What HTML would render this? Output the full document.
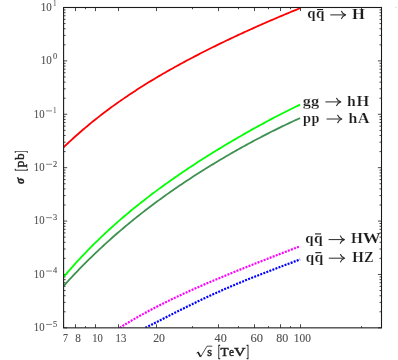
<!DOCTYPE html>
<html><head><meta charset="utf-8"><title>plot</title>
<style>
html,body{margin:0;padding:0;background:#fff;}
body{width:398px;height:360px;overflow:hidden;}
svg{display:block;will-change:transform;}
text{font-family:"Liberation Serif",serif;}
.tk{fill:#505050;stroke:#505050;stroke-width:0.12px;}
.lb{fill:#1c1c1c;font-weight:bold;stroke:#fff;stroke-width:0.2px;}
.ax{fill:#222;stroke:#222;stroke-width:0.45px;}
</style></head><body>
<svg width="398" height="360" viewBox="0 0 398 360">
<rect width="398" height="360" fill="#fff"/>
<defs><clipPath id="pc"><rect x="63.6" y="7.5" width="317.90" height="320.35"/></clipPath></defs>
<g stroke="#1a1a1a" stroke-width="0.8" fill="none">
<path d="M63.50,327.85 v-3.6 M63.50,7.5 v3.6"/>
<path d="M75.50,327.85 v-3.6 M75.50,7.5 v3.6"/>
<path d="M95.50,327.85 v-3.6 M95.50,7.5 v3.6"/>
<path d="M118.50,327.85 v-3.6 M118.50,7.5 v3.6"/>
<path d="M156.50,327.85 v-3.6 M156.50,7.5 v3.6"/>
<path d="M218.50,327.85 v-3.6 M218.50,7.5 v3.6"/>
<path d="M254.50,327.85 v-3.6 M254.50,7.5 v3.6"/>
<path d="M280.50,327.85 v-3.6 M280.50,7.5 v3.6"/>
<path d="M300.50,327.85 v-3.6 M300.50,7.5 v3.6"/>
<path d="M85.50,327.85 v-1.7 M85.50,7.5 v1.7"/>
<path d="M192.50,327.85 v-1.7 M192.50,7.5 v1.7"/>
<path d="M238.50,327.85 v-1.7 M238.50,7.5 v1.7"/>
<path d="M268.50,327.85 v-1.7 M268.50,7.5 v1.7"/>
<path d="M290.50,327.85 v-1.7 M290.50,7.5 v1.7"/>
<path d="M361.50,327.85 v-1.7 M361.50,7.5 v1.7"/>
<path d="M63.6,327.85 h3.6 M381.5,327.85 h-3.6"/>
<path d="M63.6,311.78 h2.0 M381.5,311.78 h-2.0"/>
<path d="M63.6,302.38 h2.0 M381.5,302.38 h-2.0"/>
<path d="M63.6,295.71 h2.0 M381.5,295.71 h-2.0"/>
<path d="M63.6,290.53 h2.0 M381.5,290.53 h-2.0"/>
<path d="M63.6,286.30 h2.0 M381.5,286.30 h-2.0"/>
<path d="M63.6,282.73 h2.0 M381.5,282.73 h-2.0"/>
<path d="M63.6,279.63 h2.0 M381.5,279.63 h-2.0"/>
<path d="M63.6,276.90 h2.0 M381.5,276.90 h-2.0"/>
<path d="M63.6,274.46 h3.6 M381.5,274.46 h-3.6"/>
<path d="M63.6,258.39 h2.0 M381.5,258.39 h-2.0"/>
<path d="M63.6,248.98 h2.0 M381.5,248.98 h-2.0"/>
<path d="M63.6,242.31 h2.0 M381.5,242.31 h-2.0"/>
<path d="M63.6,237.14 h2.0 M381.5,237.14 h-2.0"/>
<path d="M63.6,232.91 h2.0 M381.5,232.91 h-2.0"/>
<path d="M63.6,229.34 h2.0 M381.5,229.34 h-2.0"/>
<path d="M63.6,226.24 h2.0 M381.5,226.24 h-2.0"/>
<path d="M63.6,223.51 h2.0 M381.5,223.51 h-2.0"/>
<path d="M63.6,221.07 h3.6 M381.5,221.07 h-3.6"/>
<path d="M63.6,204.99 h2.0 M381.5,204.99 h-2.0"/>
<path d="M63.6,195.59 h2.0 M381.5,195.59 h-2.0"/>
<path d="M63.6,188.92 h2.0 M381.5,188.92 h-2.0"/>
<path d="M63.6,183.75 h2.0 M381.5,183.75 h-2.0"/>
<path d="M63.6,179.52 h2.0 M381.5,179.52 h-2.0"/>
<path d="M63.6,175.95 h2.0 M381.5,175.95 h-2.0"/>
<path d="M63.6,172.85 h2.0 M381.5,172.85 h-2.0"/>
<path d="M63.6,170.12 h2.0 M381.5,170.12 h-2.0"/>
<path d="M63.6,167.68 h3.6 M381.5,167.68 h-3.6"/>
<path d="M63.6,151.60 h2.0 M381.5,151.60 h-2.0"/>
<path d="M63.6,142.20 h2.0 M381.5,142.20 h-2.0"/>
<path d="M63.6,135.53 h2.0 M381.5,135.53 h-2.0"/>
<path d="M63.6,130.36 h2.0 M381.5,130.36 h-2.0"/>
<path d="M63.6,126.13 h2.0 M381.5,126.13 h-2.0"/>
<path d="M63.6,122.55 h2.0 M381.5,122.55 h-2.0"/>
<path d="M63.6,119.46 h2.0 M381.5,119.46 h-2.0"/>
<path d="M63.6,116.73 h2.0 M381.5,116.73 h-2.0"/>
<path d="M63.6,114.28 h3.6 M381.5,114.28 h-3.6"/>
<path d="M63.6,98.21 h2.0 M381.5,98.21 h-2.0"/>
<path d="M63.6,88.81 h2.0 M381.5,88.81 h-2.0"/>
<path d="M63.6,82.14 h2.0 M381.5,82.14 h-2.0"/>
<path d="M63.6,76.96 h2.0 M381.5,76.96 h-2.0"/>
<path d="M63.6,72.74 h2.0 M381.5,72.74 h-2.0"/>
<path d="M63.6,69.16 h2.0 M381.5,69.16 h-2.0"/>
<path d="M63.6,66.07 h2.0 M381.5,66.07 h-2.0"/>
<path d="M63.6,63.33 h2.0 M381.5,63.33 h-2.0"/>
<path d="M63.6,60.89 h3.6 M381.5,60.89 h-3.6"/>
<path d="M63.6,44.82 h2.0 M381.5,44.82 h-2.0"/>
<path d="M63.6,35.42 h2.0 M381.5,35.42 h-2.0"/>
<path d="M63.6,28.75 h2.0 M381.5,28.75 h-2.0"/>
<path d="M63.6,23.57 h2.0 M381.5,23.57 h-2.0"/>
<path d="M63.6,19.34 h2.0 M381.5,19.34 h-2.0"/>
<path d="M63.6,15.77 h2.0 M381.5,15.77 h-2.0"/>
<path d="M63.6,12.67 h2.0 M381.5,12.67 h-2.0"/>
<path d="M63.6,9.94 h2.0 M381.5,9.94 h-2.0"/>
<path d="M63.6,7.50 h3.6 M381.5,7.50 h-3.6"/>
</g>
<g clip-path="url(#pc)">
<path d="M63.60,147.26 L65.59,145.36 L67.57,143.49 L69.56,141.64 L71.55,139.82 L73.54,138.01 L75.52,136.23 L77.51,134.46 L79.50,132.72 L81.49,131.00 L83.47,129.29 L85.46,127.61 L87.45,125.94 L89.44,124.30 L91.42,122.67 L93.41,121.06 L95.40,119.47 L97.39,117.89 L99.37,116.34 L101.36,114.80 L103.35,113.27 L105.34,111.76 L107.32,110.27 L109.31,108.79 L111.30,107.33 L113.28,105.89 L115.27,104.45 L117.26,103.04 L119.25,101.63 L121.23,100.24 L123.22,98.87 L125.21,97.50 L127.20,96.15 L129.18,94.82 L131.17,93.49 L133.16,92.18 L135.15,90.88 L137.13,89.59 L139.12,88.32 L141.11,87.05 L143.10,85.80 L145.08,84.55 L147.07,83.32 L149.06,82.10 L151.05,80.89 L153.03,79.68 L155.02,78.49 L157.01,77.31 L158.99,76.13 L160.98,74.97 L162.97,73.81 L164.96,72.67 L166.94,71.53 L168.93,70.40 L170.92,69.28 L172.91,68.16 L174.89,67.06 L176.88,65.96 L178.87,64.87 L180.86,63.78 L182.84,62.71 L184.83,61.64 L186.82,60.58 L188.81,59.52 L190.79,58.47 L192.78,57.43 L194.77,56.39 L196.76,55.36 L198.74,54.34 L200.73,53.32 L202.72,52.31 L204.71,51.30 L206.69,50.30 L208.68,49.30 L210.67,48.31 L212.65,47.32 L214.64,46.34 L216.63,45.37 L218.62,44.40 L220.60,43.43 L222.59,42.47 L224.58,41.51 L226.57,40.56 L228.55,39.61 L230.54,38.67 L232.53,37.73 L234.52,36.80 L236.50,35.87 L238.49,34.94 L240.48,34.02 L242.47,33.10 L244.45,32.19 L246.44,31.28 L248.43,30.38 L250.42,29.47 L252.40,28.58 L254.39,27.68 L256.38,26.79 L258.36,25.91 L260.35,25.03 L262.34,24.15 L264.33,23.27 L266.31,22.40 L268.30,21.53 L270.29,20.67 L272.28,19.81 L274.26,18.96 L276.25,18.10 L278.24,17.26 L280.23,16.41 L282.21,15.57 L284.20,14.74 L286.19,13.90 L288.18,13.08 L290.16,12.25 L292.15,11.43 L294.14,10.62 L296.13,9.81 L298.11,9.00 L300.10,8.19" fill="none" stroke="#ff0000" stroke-width="1.8" stroke-linejoin="round"/>
<path d="M63.60,276.96 L65.59,274.63 L67.57,272.33 L69.56,270.05 L71.55,267.81 L73.54,265.58 L75.52,263.39 L77.51,261.22 L79.50,259.07 L81.49,256.95 L83.47,254.85 L85.46,252.77 L87.45,250.72 L89.44,248.69 L91.42,246.68 L93.41,244.69 L95.40,242.73 L97.39,240.78 L99.37,238.86 L101.36,236.95 L103.35,235.07 L105.34,233.20 L107.32,231.36 L109.31,229.53 L111.30,227.72 L113.28,225.93 L115.27,224.15 L117.26,222.40 L119.25,220.66 L121.23,218.93 L123.22,217.22 L125.21,215.53 L127.20,213.86 L129.18,212.19 L131.17,210.55 L133.16,208.92 L135.15,207.30 L137.13,205.70 L139.12,204.11 L141.11,202.53 L143.10,200.97 L145.08,199.42 L147.07,197.88 L149.06,196.35 L151.05,194.84 L153.03,193.34 L155.02,191.85 L157.01,190.37 L158.99,188.90 L160.98,187.45 L162.97,186.00 L164.96,184.57 L166.94,183.14 L168.93,181.73 L170.92,180.32 L172.91,178.93 L174.89,177.54 L176.88,176.17 L178.87,174.80 L180.86,173.44 L182.84,172.09 L184.83,170.75 L186.82,169.42 L188.81,168.09 L190.79,166.77 L192.78,165.47 L194.77,164.17 L196.76,162.87 L198.74,161.59 L200.73,160.31 L202.72,159.04 L204.71,157.77 L206.69,156.52 L208.68,155.27 L210.67,154.03 L212.65,152.79 L214.64,151.56 L216.63,150.34 L218.62,149.12 L220.60,147.91 L222.59,146.71 L224.58,145.51 L226.57,144.32 L228.55,143.14 L230.54,141.96 L232.53,140.79 L234.52,139.62 L236.50,138.46 L238.49,137.31 L240.48,136.16 L242.47,135.02 L244.45,133.88 L246.44,132.75 L248.43,131.63 L250.42,130.51 L252.40,129.40 L254.39,128.29 L256.38,127.19 L258.36,126.10 L260.35,125.01 L262.34,123.93 L264.33,122.85 L266.31,121.78 L268.30,120.72 L270.29,119.67 L272.28,118.61 L274.26,117.57 L276.25,116.53 L278.24,115.50 L280.23,114.48 L282.21,113.46 L284.20,112.45 L286.19,111.45 L288.18,110.45 L290.16,109.46 L292.15,108.48 L294.14,107.51 L296.13,106.54 L298.11,105.58 L300.10,104.63" fill="none" stroke="#00ff00" stroke-width="1.8" stroke-linejoin="round"/>
<path d="M63.60,286.04 L65.59,283.83 L67.57,281.65 L69.56,279.48 L71.55,277.34 L73.54,275.22 L75.52,273.12 L77.51,271.04 L79.50,268.98 L81.49,266.94 L83.47,264.92 L85.46,262.92 L87.45,260.93 L89.44,258.97 L91.42,257.02 L93.41,255.10 L95.40,253.19 L97.39,251.30 L99.37,249.42 L101.36,247.57 L103.35,245.73 L105.34,243.90 L107.32,242.10 L109.31,240.31 L111.30,238.53 L113.28,236.77 L115.27,235.03 L117.26,233.30 L119.25,231.59 L121.23,229.89 L123.22,228.20 L125.21,226.53 L127.20,224.88 L129.18,223.23 L131.17,221.61 L133.16,219.99 L135.15,218.39 L137.13,216.80 L139.12,215.22 L141.11,213.66 L143.10,212.11 L145.08,210.57 L147.07,209.04 L149.06,207.52 L151.05,206.02 L153.03,204.53 L155.02,203.05 L157.01,201.58 L158.99,200.12 L160.98,198.67 L162.97,197.23 L164.96,195.81 L166.94,194.39 L168.93,192.98 L170.92,191.59 L172.91,190.20 L174.89,188.83 L176.88,187.46 L178.87,186.10 L180.86,184.75 L182.84,183.42 L184.83,182.09 L186.82,180.76 L188.81,179.45 L190.79,178.15 L192.78,176.86 L194.77,175.57 L196.76,174.29 L198.74,173.02 L200.73,171.76 L202.72,170.51 L204.71,169.27 L206.69,168.03 L208.68,166.80 L210.67,165.58 L212.65,164.37 L214.64,163.16 L216.63,161.96 L218.62,160.77 L220.60,159.59 L222.59,158.41 L224.58,157.25 L226.57,156.09 L228.55,154.93 L230.54,153.79 L232.53,152.65 L234.52,151.51 L236.50,150.39 L238.49,149.27 L240.48,148.16 L242.47,147.06 L244.45,145.96 L246.44,144.87 L248.43,143.79 L250.42,142.71 L252.40,141.64 L254.39,140.58 L256.38,139.52 L258.36,138.47 L260.35,137.43 L262.34,136.39 L264.33,135.37 L266.31,134.34 L268.30,133.33 L270.29,132.32 L272.28,131.32 L274.26,130.33 L276.25,129.34 L278.24,128.36 L280.23,127.39 L282.21,126.42 L284.20,125.46 L286.19,124.51 L288.18,123.57 L290.16,122.63 L292.15,121.70 L294.14,120.78 L296.13,119.86 L298.11,118.96 L300.10,118.06" fill="none" stroke="#3e9150" stroke-width="1.8" stroke-linejoin="round"/>
<path d="M119.71,327.83 L121.23,326.87 L122.74,325.92 L124.26,324.98 L125.77,324.05 L127.29,323.13 L128.81,322.22 L130.32,321.31 L131.84,320.42 L133.35,319.53 L134.87,318.65 L136.38,317.78 L137.90,316.91 L139.42,316.05 L140.93,315.20 L142.45,314.36 L143.96,313.52 L145.48,312.69 L147.00,311.87 L148.51,311.06 L150.03,310.25 L151.54,309.44 L153.06,308.65 L154.58,307.86 L156.09,307.07 L157.61,306.29 L159.12,305.52 L160.64,304.75 L162.15,303.99 L163.67,303.23 L165.19,302.48 L166.70,301.73 L168.22,300.99 L169.73,300.25 L171.25,299.52 L172.77,298.79 L174.28,298.07 L175.80,297.35 L177.31,296.63 L178.83,295.92 L180.35,295.21 L181.86,294.51 L183.38,293.81 L184.89,293.12 L186.41,292.42 L187.92,291.74 L189.44,291.05 L190.96,290.37 L192.47,289.69 L193.99,289.02 L195.50,288.35 L197.02,287.68 L198.54,287.01 L200.05,286.35 L201.57,285.69 L203.08,285.03 L204.60,284.37 L206.12,283.72 L207.63,283.07 L209.15,282.42 L210.66,281.78 L212.18,281.14 L213.69,280.50 L215.21,279.86 L216.73,279.22 L218.24,278.59 L219.76,277.95 L221.27,277.32 L222.79,276.69 L224.31,276.07 L225.82,275.44 L227.34,274.82 L228.85,274.19 L230.37,273.57 L231.89,272.95 L233.40,272.34 L234.92,271.72 L236.43,271.11 L237.95,270.49 L239.46,269.88 L240.98,269.27 L242.50,268.66 L244.01,268.05 L245.53,267.44 L247.04,266.84 L248.56,266.23 L250.08,265.63 L251.59,265.03 L253.11,264.43 L254.62,263.83 L256.14,263.23 L257.66,262.63 L259.17,262.03 L260.69,261.43 L262.20,260.84 L263.72,260.24 L265.23,259.65 L266.75,259.06 L268.27,258.47 L269.78,257.88 L271.30,257.29 L272.81,256.70 L274.33,256.11 L275.85,255.52 L277.36,254.94 L278.88,254.35 L280.39,253.77 L281.91,253.18 L283.43,252.60 L284.94,252.02 L286.46,251.44 L287.97,250.86 L289.49,250.28 L291.00,249.71 L292.52,249.13 L294.04,248.56 L295.55,247.98 L297.07,247.41 L298.58,246.84 L300.10,246.27" fill="none" stroke="#ff00ff" stroke-width="2.2" stroke-dasharray="2.0 1.25" stroke-linejoin="round"/>
<path d="M145.38,327.84 L146.68,327.18 L147.98,326.51 L149.28,325.85 L150.58,325.19 L151.88,324.52 L153.18,323.86 L154.48,323.19 L155.78,322.52 L157.08,321.86 L158.38,321.19 L159.68,320.52 L160.98,319.86 L162.28,319.19 L163.58,318.52 L164.88,317.86 L166.18,317.19 L167.48,316.53 L168.78,315.87 L170.08,315.20 L171.38,314.54 L172.68,313.88 L173.98,313.22 L175.28,312.56 L176.59,311.91 L177.89,311.25 L179.19,310.60 L180.49,309.95 L181.79,309.30 L183.09,308.65 L184.39,308.00 L185.69,307.36 L186.99,306.71 L188.29,306.07 L189.59,305.43 L190.89,304.79 L192.19,304.16 L193.49,303.53 L194.79,302.90 L196.09,302.27 L197.39,301.64 L198.69,301.02 L199.99,300.40 L201.29,299.78 L202.59,299.16 L203.89,298.55 L205.19,297.94 L206.49,297.33 L207.79,296.73 L209.09,296.12 L210.39,295.52 L211.69,294.93 L212.99,294.33 L214.29,293.74 L215.59,293.15 L216.89,292.56 L218.19,291.98 L219.49,291.40 L220.79,290.82 L222.09,290.25 L223.39,289.67 L224.69,289.10 L225.99,288.54 L227.29,287.97 L228.59,287.41 L229.89,286.85 L231.19,286.30 L232.49,285.74 L233.79,285.19 L235.09,284.65 L236.39,284.10 L237.69,283.56 L238.99,283.02 L240.29,282.48 L241.59,281.94 L242.89,281.41 L244.19,280.88 L245.49,280.35 L246.79,279.83 L248.09,279.30 L249.39,278.78 L250.69,278.26 L251.99,277.75 L253.29,277.23 L254.59,276.72 L255.89,276.21 L257.19,275.70 L258.49,275.19 L259.80,274.69 L261.10,274.18 L262.40,273.68 L263.70,273.18 L265.00,272.68 L266.30,272.18 L267.60,271.69 L268.90,271.19 L270.20,270.70 L271.50,270.21 L272.80,269.71 L274.10,269.22 L275.40,268.73 L276.70,268.24 L278.00,267.75 L279.30,267.26 L280.60,266.77 L281.90,266.29 L283.20,265.80 L284.50,265.31 L285.80,264.82 L287.10,264.33 L288.40,263.84 L289.70,263.35 L291.00,262.86 L292.30,262.37 L293.60,261.88 L294.90,261.38 L296.20,260.89 L297.50,260.39 L298.80,259.90 L300.10,259.40" fill="none" stroke="#0000ff" stroke-width="2.2" stroke-dasharray="2.0 1.25" stroke-linejoin="round"/>
</g>
<rect x="63.6" y="7.5" width="317.90" height="320.35" fill="none" stroke="#1a1a1a" stroke-width="1.1"/>
<rect x="395.6" y="6.8" width="1" height="1" fill="#c4c4c4"/>
<g class="tk">
<text transform="translate(63.00,341.70) scale(0.833,1.000)" font-size="12">7</text>
<text transform="translate(75.20,341.70) scale(0.933,1.000)" font-size="12">8</text>
<text transform="translate(92.20,341.70) scale(0.883,1.000)" font-size="12">10</text>
<text transform="translate(115.60,341.70) scale(0.900,1.000)" font-size="12">13</text>
<text transform="translate(153.20,341.70) scale(0.983,1.000)" font-size="12">20</text>
<text transform="translate(214.60,341.70) scale(1.008,1.000)" font-size="12">40</text>
<text transform="translate(250.60,341.70) scale(1.042,1.000)" font-size="12">60</text>
<text transform="translate(276.20,341.70) scale(1.000,1.000)" font-size="12">80</text>
<text transform="translate(293.80,341.70) scale(0.950,1.000)" font-size="12">100</text>
<text transform="translate(33.80,331.15) scale(0.892,1.000)" font-size="12">10</text>
<path d="M46,324.45 H52" stroke="#505050" stroke-width="0.7" fill="none"/>
<text transform="translate(52.90,327.15) scale(1.050,1.000)" font-size="8.0">5</text>
<text transform="translate(33.80,277.76) scale(0.892,1.000)" font-size="12">10</text>
<path d="M46,271.06 H52" stroke="#505050" stroke-width="0.7" fill="none"/>
<text transform="translate(52.90,273.06) scale(1.050,1.000)" font-size="8.0">4</text>
<text transform="translate(33.80,224.37) scale(0.892,1.000)" font-size="12">10</text>
<path d="M46,217.67 H52" stroke="#505050" stroke-width="0.7" fill="none"/>
<text transform="translate(52.90,220.07) scale(1.050,1.000)" font-size="8.0">3</text>
<text transform="translate(33.80,170.98) scale(0.892,1.000)" font-size="12">10</text>
<path d="M46,164.28 H52" stroke="#505050" stroke-width="0.7" fill="none"/>
<text transform="translate(52.90,166.58) scale(1.050,1.000)" font-size="8.0">2</text>
<text transform="translate(33.80,117.58) scale(0.892,1.000)" font-size="12">10</text>
<path d="M46,110.88 H52" stroke="#505050" stroke-width="0.7" fill="none"/>
<text transform="translate(53.30,112.58) scale(0.775,1.000)" font-size="8.0">1</text>
<text transform="translate(40.80,64.19) scale(0.917,1.000)" font-size="12">10</text>
<text transform="translate(52.90,59.49) scale(1.050,1.000)" font-size="8.0">0</text>
<text transform="translate(40.80,10.80) scale(0.917,1.000)" font-size="12">10</text>
<text transform="translate(53.30,5.80) scale(0.775,1.000)" font-size="8.0">1</text>
</g>
<g class="lb">
<text transform="translate(307.30,18.27) scale(0.994,1.010)" font-size="15.0">q</text><text transform="translate(316.10,18.27) scale(1.018,1.010)" font-size="15.0">q</text><text transform="translate(352.10,18.60) scale(1.099,1.000)" font-size="15.0">H</text><path d="M330.3,14.90 H345.20" stroke="#2a2a2a" stroke-width="1.0" fill="none"/><path d="M341.50,11.20 Q342.60,14.00 345.60,14.90 Q342.60,15.80 341.50,18.60" stroke="#2a2a2a" stroke-width="1.1" fill="none" stroke-linecap="round" stroke-linejoin="round"/><rect x="317.00" y="9.00" width="6.1" height="1.1" fill="#1c1c1c" stroke="none"/>
<text transform="translate(302.80,105.60) scale(1.080,1.000)" font-size="15.0">g</text><text transform="translate(311.10,105.60) scale(1.093,1.000)" font-size="15.0">g</text><text transform="translate(347.10,105.60) scale(1.054,1.000)" font-size="15.0">h</text><text transform="translate(356.50,105.60) scale(1.090,1.000)" font-size="15.0">H</text><path d="M325.4,101.90 H340.30" stroke="#2a2a2a" stroke-width="1.0" fill="none"/><path d="M336.60,98.20 Q337.70,101.00 340.70,101.90 Q337.70,102.80 336.60,105.60" stroke="#2a2a2a" stroke-width="1.1" fill="none" stroke-linecap="round" stroke-linejoin="round"/>
<text transform="translate(303.00,122.70) scale(0.958,1.000)" font-size="15.0">p</text><text transform="translate(311.60,122.70) scale(0.958,1.000)" font-size="15.0">p</text><text transform="translate(348.40,122.70) scale(1.054,1.000)" font-size="15.0">h</text><text transform="translate(357.80,122.70) scale(1.088,1.000)" font-size="15.0">A</text><path d="M326.6,119.00 H341.40" stroke="#2a2a2a" stroke-width="1.0" fill="none"/><path d="M337.70,115.30 Q338.80,118.10 341.80,119.00 Q338.80,119.90 337.70,122.70" stroke="#2a2a2a" stroke-width="1.1" fill="none" stroke-linecap="round" stroke-linejoin="round"/>
<text transform="translate(305.30,242.97) scale(0.994,1.010)" font-size="15.0">q</text><text transform="translate(314.10,242.97) scale(1.054,1.010)" font-size="15.0">q</text><text transform="translate(351.00,243.30) scale(1.013,1.000)" font-size="15.0">H</text><text transform="translate(362.80,243.30) scale(1.200,1.000)" font-size="15.0">W</text><path d="M328.6,239.60 H344.00" stroke="#2a2a2a" stroke-width="1.0" fill="none"/><path d="M340.30,235.90 Q341.40,238.70 344.40,239.60 Q341.40,240.50 340.30,243.30" stroke="#2a2a2a" stroke-width="1.1" fill="none" stroke-linecap="round" stroke-linejoin="round"/><rect x="315.00" y="233.40" width="6.1" height="1.1" fill="#1c1c1c" stroke="none"/>
<text transform="translate(305.70,261.57) scale(1.006,1.010)" font-size="15.0">q</text><text transform="translate(314.40,261.57) scale(1.054,1.010)" font-size="15.0">q</text><text transform="translate(352.30,261.90) scale(0.987,1.000)" font-size="15.0">H</text><text transform="translate(364.10,261.90) scale(0.970,1.000)" font-size="15.0">Z</text><path d="M328.8,258.20 H344.20" stroke="#2a2a2a" stroke-width="1.0" fill="none"/><path d="M340.50,254.50 Q341.60,257.30 344.60,258.20 Q341.60,259.10 340.50,261.90" stroke="#2a2a2a" stroke-width="1.1" fill="none" stroke-linecap="round" stroke-linejoin="round"/><rect x="315.30" y="252.10" width="6.1" height="1.1" fill="#1c1c1c" stroke="none"/>
</g>
<g class="ax">
<text transform="translate(207.30,355.50) scale(0.969,1.000)" font-size="12.5">s</text>
<text transform="translate(217.90,356.50) scale(0.554,1.272)" font-size="12.5">[</text>
<text transform="translate(220.40,355.50) scale(1.059,1.000)" font-size="12.5">T</text>
<text transform="translate(228.90,355.50) scale(0.919,1.000)" font-size="12.5">e</text>
<text transform="translate(234.00,355.50) scale(1.282,1.000)" font-size="12.5">V</text>
<text transform="translate(246.50,356.50) scale(0.554,1.272)" font-size="12.5">]</text>
<path d="M196.5,353.2 L197.9,352.2 L200.6,357.0 L207.0,346.2 H212.3" fill="none" stroke="#222" stroke-width="0.8" stroke-linejoin="miter"/>
<path d="M197.9,352.0 L200.5,356.6" fill="none" stroke="#222" stroke-width="1.6"/>
<text transform="translate(23.75,184.10) rotate(-90) translate(-0.00,0.05) scale(0.908,0.955)" font-size="12.5" font-style="italic" font-weight="bold" stroke-width="0.5">σ</text>
<text transform="translate(23.75,171.00) rotate(-90) translate(-0.00,0.90) scale(0.554,1.184)" font-size="12.5">[</text>
<text transform="translate(23.75,167.50) rotate(-90) translate(-0.00,0.00) scale(1.104,1.000)" font-size="12.5">p</text>
<text transform="translate(23.75,159.80) rotate(-90) translate(-0.00,0.00) scale(1.008,1.000)" font-size="12.5">b</text>
<text transform="translate(23.75,152.80) rotate(-90) translate(-0.00,0.90) scale(0.458,1.184)" font-size="12.5">]</text>
</g>
</svg>
</body></html>
